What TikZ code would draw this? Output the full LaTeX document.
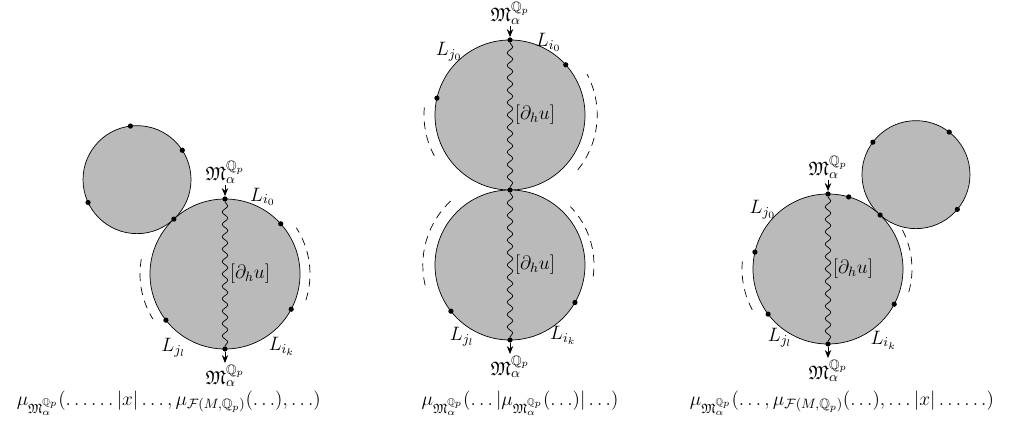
\documentclass[tikz,border=0pt]{standalone}
\usepackage{fix-cm}
\usepackage{amsmath,amssymb}
\DeclareFontFamily{U}{msb}{}
\DeclareFontShape{U}{msb}{m}{n}{<-6> msbm5 <6-8> msbm7 <8-> msbm10}{}
\DeclareFontFamily{U}{euf}{}
\DeclareFontShape{U}{euf}{m}{n}{<-6> eufm5 <6-8> eufm7 <8-> eufm10}{}
\usetikzlibrary{arrows.meta,positioning,calc,decorations.pathmorphing}
\definecolor{diskgray}{HTML}{BABABA}
\newcommand{\Mfr}{\mathfrak{M}_\alpha^{\mathbb{Q}_p}}
\tikzset{
  disk/.style={
    circle,
    draw=black,
    fill=diskgray,
    line width=0.5pt,
    outer sep=0pt,
    inner sep=0pt
  },
  dot/.style={
    circle,
    fill=black,
    inner sep=0pt,
    minimum size=1.3mm
  },
  arrow/.style={
    -{Stealth[length=2mm,width=1.6mm]},
    line width=0.6pt
  },
  wave/.style={
    decorate,
    decoration={snake, segment length=3.1mm, amplitude=0.7mm},
    line width=0.5pt
  },
  bound/.style={
    dash pattern=on 2mm off 1.5mm,
    line width=0.5pt
  },
  lab/.style={
    inner sep=1pt
  },
  deriv/.style={
    anchor=west,
    inner sep=1pt,
    xshift=0.8mm
  }
}

\begin{document}
\begin{tikzpicture}[font=\fontsize{13.8}{16.5}\selectfont]
\useasboundingbox (0,0) rectangle (25.45,10.625);

% left
\node[disk, minimum size=2.7cm] (smallL) at ($(5.625,3.775)+(133:3.225)$) {};
\node[disk, minimum size=3.75cm] (bigL) at (5.625,3.775) {};
\foreach \a [count=\i] in {97,33,205} \node[dot] (sL\i) at (smallL.\a) {};
\foreach \a [count=\i] in {42,-28,218,133} \node[dot] (bL\i) at (bigL.\a) {};
\node[dot] (topL) at (bigL.north) {};
\node[dot] (botL) at (bigL.south) {};
\node[lab, above=2.8mm of topL] (mTopL) {$\Mfr$};
\node[lab, below=2.8mm of botL] (mBotL) {$\Mfr$};
\draw[arrow] (mTopL) -- (topL);
\draw[arrow] (botL) -- (mBotL);
\draw[wave] (topL) -- (botL);
\node[deriv] (duL) at (bigL.center) {$[\partial_h u]$};
\node (LiL) at ($(bigL.center)+(64:2.15)$) {$L_{i_0}$};
\node (LkL) at ($(bigL.center)+(-52:2.3)$) {$L_{i_k}$};
\node (LlL) at ($(bigL.center)+(235:2.25)$) {$L_{j_l}$};
\draw[bound] ($(bigL.center)+(-18:2.125)$) arc[start angle=-18, end angle=33, radius=2.125];
\draw[bound] ($(bigL.center)+(170:2.125)$) arc[start angle=170, end angle=212, radius=2.125];

% middle
\node[disk, minimum size=3.75cm] (topM) at (12.75,7.75) {};
\node[disk, minimum size=3.75cm] (botM) at (12.75,4.0) {};
\node[dot] (nM) at (topM.north) {};
\node[dot] (cM) at (topM.south) {};
\node[dot] (sM) at (botM.south) {};
\foreach \a [count=\i] in {42,167} \node[dot] (tM\i) at (topM.\a) {};
\foreach \a [count=\i] in {218,-30} \node[dot] (uM\i) at (botM.\a) {};
\node[lab, above=2.8mm of nM] (mTopM) {$\Mfr$};
\node[lab, below=2.8mm of sM] (mBotM) {$\Mfr$};
\draw[arrow] (mTopM) -- (nM);
\draw[arrow] (sM) -- (mBotM);
\draw[wave] (nM) -- (cM);
\draw[wave] (cM) -- (sM);
\node[deriv] (duM1) at (topM.center) {$[\partial_h u]$};
\node[deriv] (duM2) at (botM.center) {$[\partial_h u]$};
\node (LjM) at ($(topM.center)+(134:2.2)$) {$L_{j_0}$};
\node (LiM) at ($(topM.center)+(62:2.05)$) {$L_{i_0}$};
\node (LlM) at ($(botM.center)+(236:2.15)$) {$L_{j_l}$};
\node (LkM) at ($(botM.center)+(-53:2.2)$) {$L_{i_k}$};
\draw[bound] ($(topM.center)+(-39:2.18)$) arc[start angle=-39, end angle=28, radius=2.18];
\draw[bound] ($(topM.center)+(175:2.15)$) arc[start angle=175, end angle=211, radius=2.15];
\draw[bound] ($(botM.center)+(133:2.18)$) arc[start angle=133, end angle=195, radius=2.18];
\draw[bound] ($(botM.center)+(-8:2.1)$) arc[start angle=-8, end angle=44, radius=2.1];

% right
\node[disk, minimum size=2.7cm] (smallR) at ($(20.7,3.9)+(47:3.225)$) {};
\node[disk, minimum size=3.75cm] (bigR) at (20.7,3.9) {};
\foreach \a [count=\i] in {143,52,-40} \node[dot] (sR\i) at (smallR.\a) {};
\foreach \a [count=\i] in {74,46,-28,217,167} \node[dot] (bR\i) at (bigR.\a) {};
\node[dot] (topR) at (bigR.north) {};
\node[dot] (botR) at (bigR.south) {};
\node[lab, above=2.8mm of topR] (mTopR) {$\Mfr$};
\node[lab, below=2.8mm of botR] (mBotR) {$\Mfr$};
\draw[arrow] (mTopR) -- (topR);
\draw[arrow] (botR) -- (mBotR);
\draw[wave] (topR) -- (botR);
\node[deriv] (duR) at (bigR.center) {$[\partial_h u]$};
\node (LjR) at ($(bigR.center)+(138:2.2)$) {$L_{j_0}$};
\node (LlR) at ($(bigR.center)+(235:2.1)$) {$L_{j_l}$};
\node (LkR) at ($(bigR.center)+(-52:2.25)$) {$L_{i_k}$};
\draw[bound] ($(bigR.center)+(-16:2.1)$) arc[start angle=-16, end angle=31, radius=2.1];
\draw[bound] ($(bigR.center)+(175:2.15)$) arc[start angle=175, end angle=211, radius=2.15];

% formulas
\node (muL) at (4.22,0.55) {$\mu_{\Mfr}(\ldots\ldots|x|\ldots,\mu_{\mathcal{F}(M,\mathbb{Q}_p)}(\ldots),\ldots)$};
\node (muM) at (13.0,0.55) {$\mu_{\Mfr}(\ldots|\mu_{\Mfr}(\ldots)|\ldots)$};
\node (muR) at (21.05,0.55) {$\mu_{\Mfr}(\ldots,\mu_{\mathcal{F}(M,\mathbb{Q}_p)}(\ldots),\ldots|x|\ldots\ldots)$};

\end{tikzpicture}
\end{document}
